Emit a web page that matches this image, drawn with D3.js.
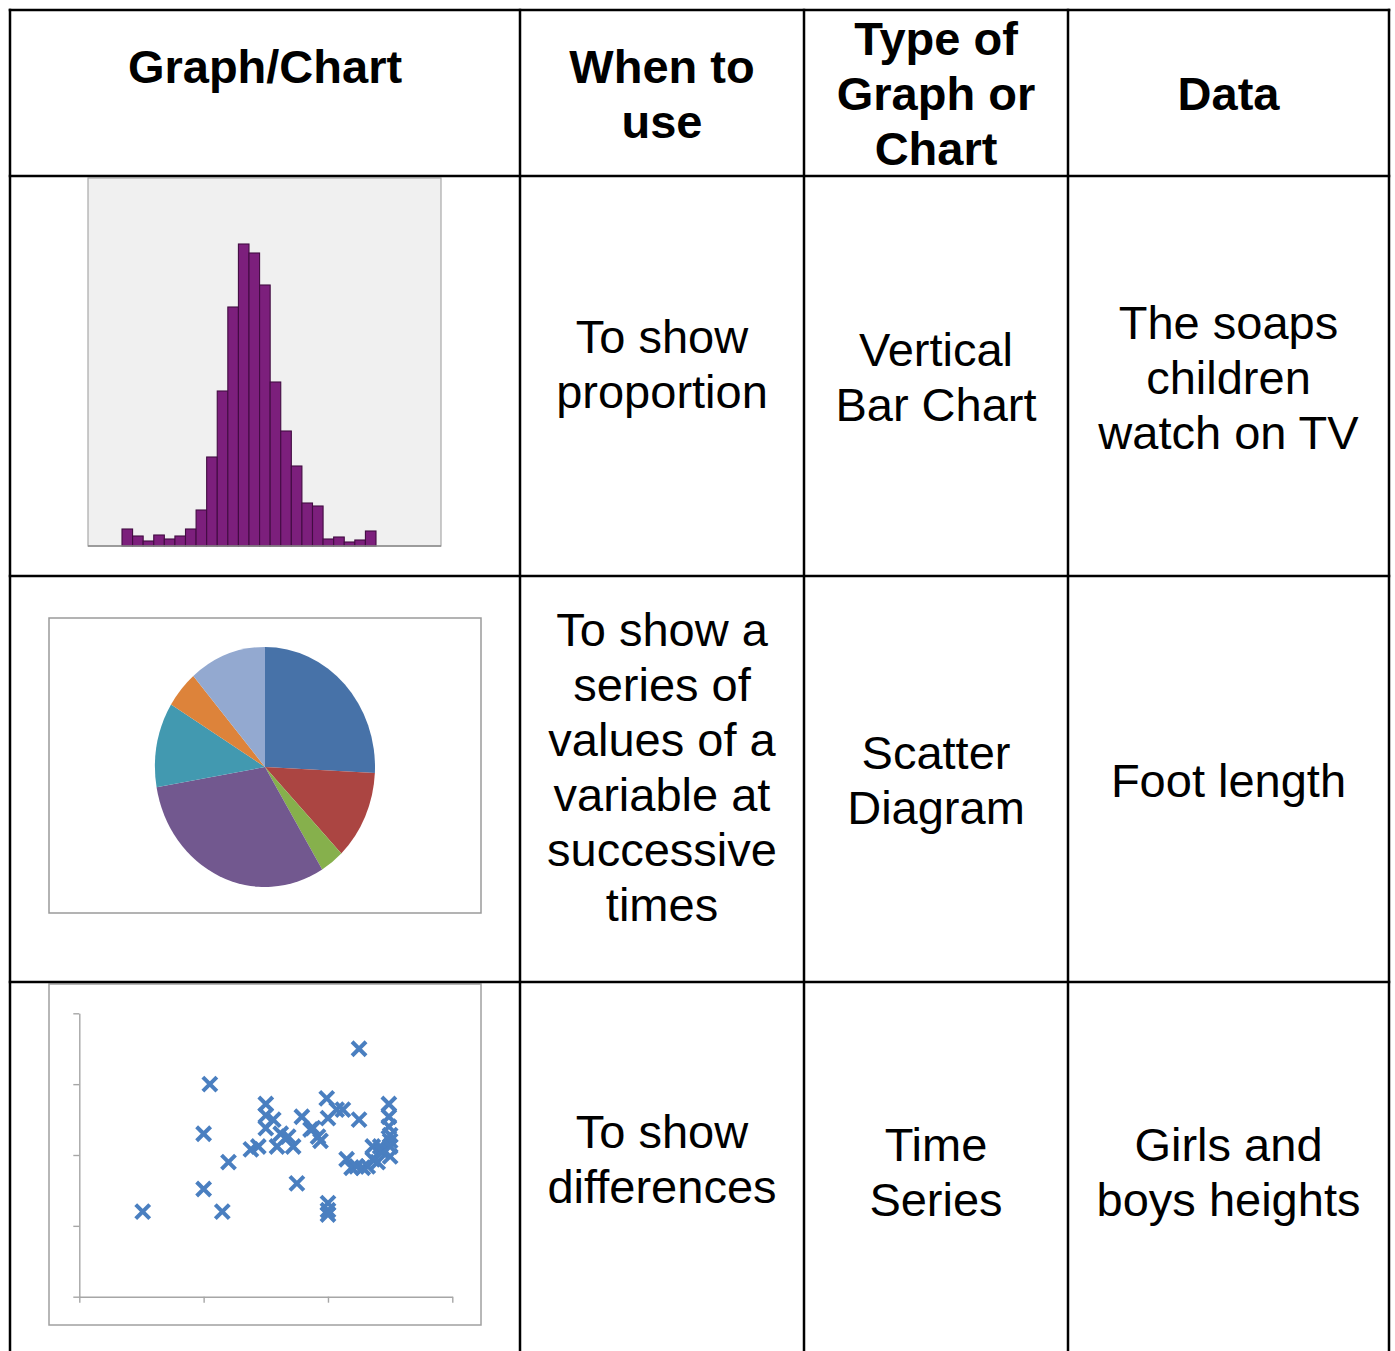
<!DOCTYPE html>
<html>
<head>
<meta charset="utf-8">
<script src="https://cdn.jsdelivr.net/npm/d3@7"></script>
<style>
  body { margin: 0; background: #fff; }
  svg text { font-family: "Liberation Sans", Arial, sans-serif; fill: #000; }
</style>
</head>
<body>
<div id="chart"></div>
<script>
// Table text.
const headers = [["Graph/Chart", ""], ["When to", "use"], ["Type of", "Graph or", "Chart"], ["Data"]]
const whenToUse = [["To show", "proportion"],
    ["To show a", "series of", "values of a", "variable at", "successive", "times"],
    ["To show", "differences"]]
const chartTypes = [["Vertical", "Bar Chart"], ["Scatter", "Diagram"], ["Time", "Series"]]
const dataTexts = [["The soaps", "children", "watch on TV"], ["Foot length"], ["Girls and", "boys heights"]]

// Histogram frequencies (24 bins).
const histCounts = [17, 10, 5, 11, 7, 10, 17, 36, 89, 155, 239, 302, 293, 261, 164, 115, 80, 43, 40, 7, 9, 4, 6, 15]

// Pie slices (percent), clockwise from 12 o'clock.
const pieValues = [25.8, 12, 3.5, 31, 11.4, 5, 11.3]
const pieColors = ["#4772a8", "#ab4542", "#86b04c", "#72588f", "#4299b0", "#dd833a", "#93a9d0"]

// Scatter points.
const scatterX = [5.1, 10.5, 22.5, 10.0, 12.0, 10.0, 11.5, 17.5, 20.0, 20.0, 20.0, 15.0, 15.0, 15.0, 14.4, 13.8,
    15.6, 15.9, 16.2, 16.8, 17.2, 17.9, 18.6, 19.2, 19.9, 20.0, 19.4, 20.7, 21.2, 22.5, 21.5, 21.9, 22.3, 22.8,
    23.2, 23.6, 23.6, 24.2, 24.4, 24.0, 25.0, 24.9, 24.9, 24.9, 25.0, 25.0, 25.0, 18.8]
const scatterY = [60, 150, 175, 115, 95, 76, 60, 80, 66, 61, 58, 136, 128, 119, 106, 104,
    125, 106, 115, 113, 106, 127, 118, 113, 140, 126, 110, 132, 132, 125, 97, 91, 92, 91,
    92, 97, 106, 106, 102, 95, 99, 136, 127, 120, 114, 110, 106, 119]
const scatterXTicks = [0, 10, 20, 30]
const scatterYTicks = [0, 50, 100, 150, 200]

// Layout.
let width = 1395
let height = 1351
let colEdges = [10, 520, 804, 1068, 1389]
let rowEdges = [10, 176, 576, 982, 1362]
let lineHeight = 55
let fontSize = 47

let svg = d3.select("#chart")
    .append("svg")
    .attr("width", width)
    .attr("height", height);

// Write a block of centred lines around a cell centre.
function cellText(lines, col, rowCenter, shift, bold) {
    let cx = (colEdges[col] + colEdges[col + 1]) / 2
    let first = rowCenter + 17.5 - (lines.length - 1) * lineHeight / 2 + shift
    let t = svg.append("text")
        .attr("text-anchor", "middle")
        .style("font-size", fontSize + "px")
        .style("font-weight", bold ? "bold" : "normal");
    lines.forEach(function(line, i) {
        t.append("tspan").attr("x", cx).attr("y", first + i * lineHeight).text(line);
    });
}

// Header row.
headers.forEach(function(lines, c) { cellText(lines, c, 92.5, 0, true) });

// Body rows.
let rowCenters = [376, 779, 1170.5]
rowCenters.forEach(function(rc, r) {
    cellText(whenToUse[r], 1, rc, -13, false)
    cellText(chartTypes[r], 2, rc, 0, false)
    cellText(dataTexts[r], 3, rc, 0, false)
});

// ---- Histogram ----
let hist = svg.append("g");
hist.append("rect").attr("x", 88).attr("y", 178).attr("width", 353).attr("height", 368)
    .style("fill", "#f0f0f0").style("stroke", "#a9a9a9").style("stroke-width", 1.2);
let histX = d3.scaleBand().domain(d3.range(histCounts.length)).range([122, 376]).padding(0);
let histY = d3.scaleLinear().domain([0, 368]).range([546, 178]);
hist.selectAll("rect.bar")
    .data(histCounts)
    .enter()
    .append("rect")
    .attr("class", "bar")
    .attr("x", function(d, i) { return histX(i); })
    .attr("y", function(d) { return histY(d); })
    .attr("width", histX.bandwidth())
    .attr("height", function(d) { return histY(0) - histY(d); })
    .style("fill", "#7c1f7c")
    .style("stroke", "#420c42")
    .style("stroke-width", 1.1);
hist.append("line").attr("x1", 88).attr("x2", 441).attr("y1", 546).attr("y2", 546)
    .style("stroke", "#8c8c8c").style("stroke-width", 1.5);

// ---- Pie ----
let pieBox = svg.append("g");
pieBox.append("rect").attr("x", 49).attr("y", 618).attr("width", 432).attr("height", 295)
    .style("fill", "#fff").style("stroke", "#9a9a9a").style("stroke-width", 1.5);
let pieRadius = 120
let pie = d3.pie().sort(null).value(function(d) { return d; });
let arc = d3.arc().innerRadius(0).outerRadius(pieRadius);
pieBox.append("g")
    .attr("transform", "translate(265,767) scale(" + (110 / pieRadius) + ",1)")
    .selectAll("path")
    .data(pie(pieValues))
    .enter()
    .append("path")
    .attr("d", arc)
    .style("fill", function(d, i) { return pieColors[i]; });

// ---- Scatter ----
let sc = svg.append("g");
sc.append("rect").attr("x", 49).attr("y", 984).attr("width", 432).attr("height", 341)
    .style("fill", "#fff").style("stroke", "#a0a0a0").style("stroke-width", 1.5);
let scX = d3.scaleLinear().domain([0, 30]).range([79.3, 452.3]);
let scY = d3.scaleLinear().domain([0, 200]).range([1296.7, 1013.3]);
let xAxis = d3.axisBottom(scX).tickValues(scatterXTicks).tickFormat("").tickSize(6).tickSizeOuter(0);
let yAxis = d3.axisLeft(scY).tickValues(scatterYTicks).tickFormat("").tickSize(6).tickSizeOuter(0);
let gx = sc.append("g").attr("transform", "translate(0," + scY(0) + ")").call(xAxis);
let gy = sc.append("g").attr("transform", "translate(" + scX(0) + ",0)").call(yAxis);
[gx, gy].forEach(function(g) {
    g.selectAll("path, line").style("stroke", "#a6a6a6").style("stroke-width", 1.4);
});
let cross = "M-7,-7L7,7M-7,7L7,-7"
sc.selectAll("path.pt")
    .data(scatterX.map(function(x, i) { return [x, scatterY[i]]; }))
    .enter()
    .append("path")
    .attr("class", "pt")
    .attr("transform", function(d) { return "translate(" + scX(d[0]) + "," + scY(d[1]) + ")"; })
    .attr("d", cross)
    .style("fill", "none")
    .style("stroke", "#4a7fc0")
    .style("stroke-width", 4);

// ---- Table grid ----
let grid = svg.append("g").style("stroke", "#000").style("stroke-width", 2.5);
colEdges.forEach(function(x) {
    grid.append("line").attr("x1", x).attr("x2", x).attr("y1", rowEdges[0] - 1.25).attr("y2", rowEdges[4]);
});
rowEdges.slice(0, 4).forEach(function(y) {
    grid.append("line").attr("x1", colEdges[0] - 1.25).attr("x2", colEdges[4] + 1.25).attr("y1", y).attr("y2", y);
});
</script>
</body>
</html>
